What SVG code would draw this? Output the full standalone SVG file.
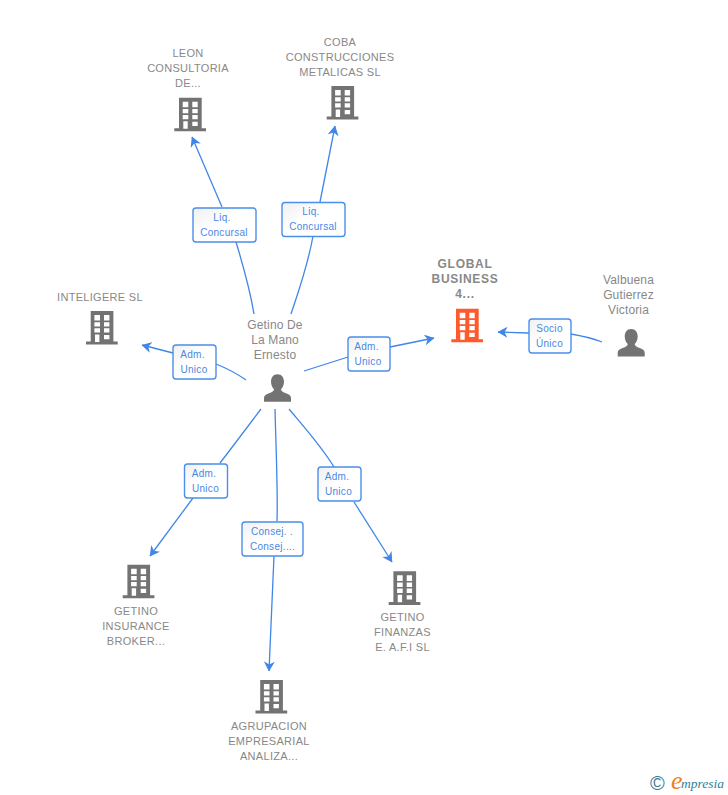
<svg xmlns="http://www.w3.org/2000/svg" xmlns:xlink="http://www.w3.org/1999/xlink" width="728" height="795" viewBox="0 0 728 795">
<style>
.n{font-family:"Liberation Sans",Arial,sans-serif;font-size:11px;fill:#888;text-anchor:middle;letter-spacing:.3px}
.p{font-size:12px;letter-spacing:.15px}
.b{font-weight:bold;font-size:12px;letter-spacing:.7px}
.l{font-family:"Liberation Sans",Arial,sans-serif;font-size:10px;fill:#4a88e4;text-anchor:middle;letter-spacing:.3px}
.c{fill:none;stroke:#3f86e8;stroke-width:1.3}
.bx{fill:url(#g);stroke:#4a8fe8;stroke-width:1.4}
.w{fill:#fff}
</style>
<defs>
<linearGradient id="g" x1="0" y1="0" x2="1" y2="1"><stop offset="0" stop-color="#f0f0f0"/><stop offset=".45" stop-color="#fff"/></linearGradient>
<marker id="a" viewBox="0 0 10 12" refX="9.500" refY="6" markerWidth="10" markerHeight="12" markerUnits="userSpaceOnUse" orient="auto"><path d="M10 6L0 0.500L3 6L0 11.500Z" fill="#3f86e8"/></marker>
<symbol id="bld" width="32" height="34" viewBox="0 0 32 34" overflow="visible">
<path d="M4.700 0H27.400V30.600H31.700V33.600H0V30.600H4.700Z"/>
<path class="w" d="M8.400 4H14V9.600H8.400ZM18 4H23.400V9.600H18ZM8.400 11.300H14V15.600H8.400ZM18 11.300H23.400V15.600H18ZM8.400 17.300H14V21.600H8.400ZM18 17.300H23.400V21.600H18ZM9 23.500H13.400V31H9ZM18 24H23.400V28.300H18Z"/>
</symbol>
<symbol id="per" width="27" height="28" viewBox="0 0 27 28" overflow="visible">
<path d="M13.500 0C17.800 0 20 3.500 20 7.500C20 10.800 18.500 13.500 17 15C17 17 19 17.800 22 19C25.500 20.300 27 21.500 27 24V27.400H0V24C0 21.500 1.500 20.300 5 19C8 17.800 10 17 10 15C8.500 13.500 7 10.800 7 7.500C7 3.500 9.200 0 13.500 0Z"/>
</symbol>
</defs>
<g id="connectors">
<path class="c" d="M254 314C250 290 243 265 236 242"/><path class="c" d="M222 207L192 137" marker-end="url(#a)"/>
<path class="c" d="M291 314C299 290 308 265 313 236"/><path class="c" d="M320 202L335 126" marker-end="url(#a)"/>
<path class="c" d="M246 380C236 373 226 368 216 364"/><path class="c" d="M173 353L142 345" marker-end="url(#a)"/>
<path class="c" d="M304 371L348 357"/><path class="c" d="M390 347L434 338" marker-end="url(#a)"/>
<path class="c" d="M602 342C592 338 582 336 571 334"/><path class="c" d="M529 333L498 332" marker-end="url(#a)"/>
<path class="c" d="M261 409L230 450L220 463"/><path class="c" d="M193 498L150 556" marker-end="url(#a)"/>
<path class="c" d="M275 409C276 450 278 490 277 521"/><path class="c" d="M274 556C272 600 270 640 269 671" marker-end="url(#a)"/>
<path class="c" d="M289 409C305 428 322 447 334 467"/><path class="c" d="M354 502L392 562" marker-end="url(#a)"/>
</g>
<g id="edge-labels">
<g><rect class="bx" x="193" y="208" width="63" height="34" rx="3"/><text class="l" x="222" y="221">Liq.</text><text class="l" x="224" y="236">Concursal</text></g>
<g><rect class="bx" x="282" y="202.500" width="63" height="34" rx="3"/><text class="l" x="311" y="215">Liq.</text><text class="l" x="313" y="230">Concursal</text></g>
<g><rect class="bx" x="173" y="345" width="43" height="34" rx="3"/><text class="l" x="192.500" y="358">Adm.</text><text class="l" x="194" y="373">Unico</text></g>
<g><rect class="bx" x="348" y="337" width="42" height="34" rx="3"/><text class="l" x="366.500" y="350">Adm.</text><text class="l" x="368" y="365">Unico</text></g>
<g><rect class="bx" x="529" y="319" width="42" height="34" rx="3"/><text class="l" x="549.500" y="332">Socio</text><text class="l" x="549.500" y="347">Único</text></g>
<g><rect class="bx" x="184.500" y="464" width="43" height="34" rx="3"/><text class="l" x="204" y="477">Adm.</text><text class="l" x="205.500" y="492">Unico</text></g>
<g><rect class="bx" x="242" y="522" width="61" height="34" rx="3"/><text class="l" x="272" y="535">Consej. .</text><text class="l" x="272.500" y="550">Consej....</text></g>
<g><rect class="bx" x="318" y="467" width="43" height="34" rx="3"/><text class="l" x="337" y="480">Adm.</text><text class="l" x="338.500" y="495">Unico</text></g>
</g>
<g id="leon" fill="#737373"><text class="n" x="188" y="57">LEON</text><text class="n" x="188" y="72">CONSULTORIA</text><text class="n" x="188" y="87">DE...</text><use href="#bld" x="174.300" y="97.700"/></g>
<g id="coba" fill="#737373"><text class="n" x="340" y="46">COBA</text><text class="n" x="340" y="61">CONSTRUCCIONES</text><text class="n" x="340" y="76">METALICAS SL</text><use href="#bld" x="326.700" y="86"/></g>
<g id="inteligere" fill="#737373"><text class="n" x="100" y="301">INTELIGERE SL</text><use href="#bld" x="86" y="311"/></g>
<g id="global" fill="#ff5a2c"><text class="n b" x="465" y="268">GLOBAL</text><text class="n b" x="465" y="283">BUSINESS</text><text class="n b" x="465" y="298">4...</text><use href="#bld" x="451.300" y="308.700"/></g>
<g id="valbuena" fill="#737373"><text class="n p" x="628.500" y="284">Valbuena</text><text class="n p" x="628.500" y="299">Gutierrez</text><text class="n p" x="628.500" y="314">Victoria</text><use href="#per" x="617.700" y="329"/></g>
<g id="getino" fill="#737373"><text class="n p" x="275" y="329">Getino De</text><text class="n p" x="275" y="344">La Mano</text><text class="n p" x="275" y="359">Ernesto</text><use href="#per" x="264" y="374.300"/></g>
<g id="insurance" fill="#737373"><use href="#bld" x="122.700" y="564.700"/><text class="n" x="136" y="615">GETINO</text><text class="n" x="136" y="630">INSURANCE</text><text class="n" x="136" y="645">BROKER...</text></g>
<g id="finanzas" fill="#737373"><use href="#bld" x="388.700" y="571.300"/><text class="n" x="402.500" y="621">GETINO</text><text class="n" x="402.500" y="636">FINANZAS</text><text class="n" x="402.500" y="651">E. A.F.I SL</text></g>
<g id="agrupacion" fill="#737373"><use href="#bld" x="255.500" y="680"/><text class="n" x="269" y="730">AGRUPACION</text><text class="n" x="269" y="745">EMPRESARIAL</text><text class="n" x="269" y="760">ANALIZA...</text></g>
<g id="logo"><text x="650" y="790" font-family="'Liberation Sans',sans-serif" font-size="20" fill="#3d7a92">©</text><text x="671" y="789" font-family="'Liberation Serif',serif" font-style="italic" font-size="26" fill="#f08020">e</text><text x="681" y="788" font-family="'Liberation Serif',serif" font-style="italic" font-size="13.500" fill="#2f7f95">mpresia</text></g>
</svg>
